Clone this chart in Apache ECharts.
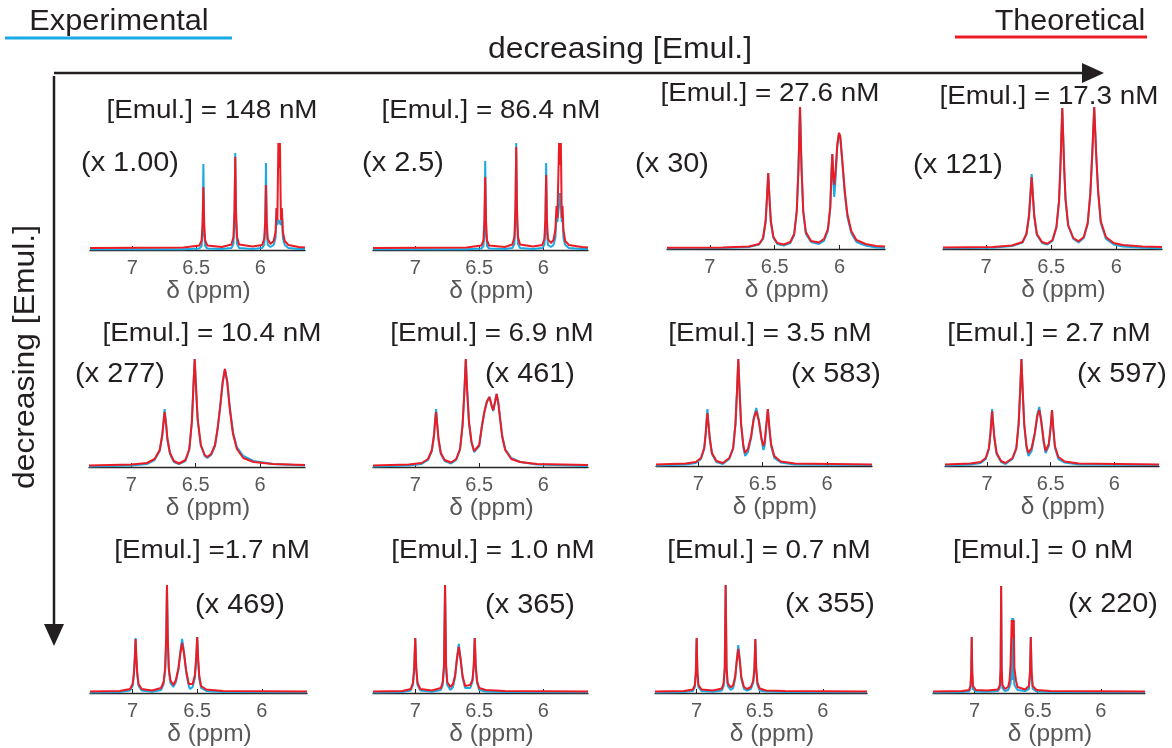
<!DOCTYPE html>
<html>
<head>
<meta charset="utf-8">
<script src="https://cdn.jsdelivr.net/npm/echarts@6/dist/echarts.min.js"></script>
<style>
html,body{margin:0;padding:0;background:#ffffff;}
#chart{width:1172px;height:748px;}
</style>
</head>
<body>
<div id="chart"></div>
<script>
// ---- 1H NMR spectra, experimental (exp) vs simulated (sim), intensity in relative units ----
const concLabels = ['[Emul.] = 148 nM', '[Emul.] = 86.4 nM', '[Emul.] = 27.6 nM', '[Emul.] = 17.3 nM',
                    '[Emul.] = 10.4 nM', '[Emul.] = 6.9 nM', '[Emul.] = 3.5 nM', '[Emul.] = 2.7 nM',
                    '[Emul.] =1.7 nM', '[Emul.] = 1.0 nM', '[Emul.] = 0.7 nM', '[Emul.] = 0 nM'];
const scaleLabels = ['(x 1.00)', '(x 2.5)', '(x 30)', '(x 121)',
                     '(x 277)', '(x 461)', '(x 583)', '(x 597)',
                     '(x 469)', '(x 365)', '(x 355)', '(x 220)'];
const ppmTicks = [6, 6.5, 7];
const ppmRange = [5.65, 7.33];

// 148 nM
const ppm148 = [7.33,6.60,6.475,6.458,6.450,6.444,6.438,6.430,6.414,6.30,
                6.225,6.209,6.201,6.195,6.189,6.181,6.165,6.06,
                5.985,5.969,5.961,5.955,5.949,5.941,5.92,
                5.895,5.880,5.872,5.866,5.858,5.852,5.846,5.838,5.831,5.823,5.808,5.78,5.70,5.65];
const sim148 = [2,2.5,4.5,9.5,27,63,27,9.5,4.5,3,
                5.5,13,39,93,39,13,5.5,3.5,
                5,11,28,65,28,11,6,
                9,18,42,30,107,82,107,30,42,18,9,5,3,2.5];
const exp148 = [0.8,0.8,1.5,4,18,86,18,4,1.5,1,
                2,6,30,97,30,6,2,1,
                2,5,20,87,20,5,3,
                5,12,42,25,30,28,30,25,40,12,5,2,1,1];

// 86.4 nM
const ppm86 = [7.33,6.60,6.483,6.467,6.459,6.453,6.447,6.439,6.423,6.30,
               6.241,6.225,6.217,6.211,6.205,6.197,6.181,6.08,
               6.007,5.991,5.983,5.977,5.971,5.963,5.94,
               5.92,5.905,5.896,5.889,5.876,5.869,5.862,5.855,5.849,5.842,5.828,5.80,5.70,5.65];
const sim86 = [2,2.5,4.5,9.5,30,73,30,9.5,4.5,3,
               5.5,13,42,103,42,13,5.5,3.5,
               5,11,31,75,31,11,7,
               10,20,44,32,107,85,107,32,44,20,9,5,3,2.5];
const exp86 = [0.8,0.8,1.5,4,18,89,18,4,1.5,1,
               2,6,32,107,32,6,2,1,
               2,5,20,87,20,5,3,
               5,12,35,28,45,57,45,28,35,12,5,2,1,1];

// 27.6 nM
const ppm27 = [7.33,6.90,6.70,6.62,6.59,6.57,6.56,6.55,6.54,6.53,6.51,6.48,
               6.43,6.38,6.35,6.33,6.317,6.305,6.293,6.28,6.26,6.22,6.16,6.12,6.09,
               6.072,6.062,6.056,6.048,6.041,6.03,6.018,6.005,5.995,5.98,5.96,5.94,5.91,5.87,5.80,5.72,5.65];
const sim27 = [1.2,1.5,2.5,5,11,28,50,76,50,28,12,6,
               4.5,7,15,38,80,142,80,38,17,8,6.5,10,20,
               42,78,95,72,64,80,104,116,113,90,58,35,18,9,5,3,2.5];
const exp27 = [0.8,1,2,4.5,10,27,50,76,50,27,11,5,
               3.5,6,14,38,80,142,80,37,15,7,5,8,18,
               40,78,95,65,52,72,102,116,112,88,55,32,16,7,3.5,1.5,1];

// 17.3 nM
const ppm17 = [7.33,6.95,6.80,6.72,6.69,6.67,6.66,6.65,6.64,6.63,6.61,6.57,
               6.53,6.49,6.46,6.44,6.43,6.415,6.40,6.39,6.37,6.33,6.29,
               6.25,6.22,6.20,6.185,6.17,6.155,6.14,6.12,6.08,6.02,5.95,5.80,5.65];
const sim17 = [1.5,2,3.5,7,15,33,52,72,52,33,15,7,
               5.3,9,22,48,80,141,80,50,24,11,7.7,
               12,26,55,95,142,95,58,28,12,6,4,2.5,2];
const exp17 = [0.8,1.2,3,6.5,15,34,55,75,54,33,14,6,
               4.5,8,21,48,80,141,80,49,23,10,6.5,
               11,25,55,95,142,95,57,26,10,4.5,2.5,1.2,0.8];

// 10.4 nM
const ppm10 = [7.33,7.00,6.88,6.82,6.78,6.76,6.75,6.742,6.73,6.72,6.70,6.67,
               6.63,6.58,6.55,6.53,6.518,6.508,6.497,6.485,6.46,6.43,6.41,
               6.38,6.35,6.33,6.31,6.29,6.273,6.255,6.235,6.21,6.18,6.13,6.05,5.90,5.65];
const sim10 = [1.5,2.5,4,8,17,32,45,55,42,28,14,6,
               3.5,7,18,45,80,108,78,48,22,12,10,
               13,22,38,60,85,98,85,58,33,18,9,5,3,2];
const exp10 = [0.6,1.5,3,7,16,32,46,58,43,27,13,5,
               3,6,17,45,80,108,78,47,21,11,9,
               12,21,38,60,85,98,86,60,35,20,11,6,3,1.5];

// 6.9 nM
const ppm6_9 = [7.33,7.05,6.95,6.90,6.87,6.853,6.845,6.837,6.828,6.818,6.80,6.77,
                6.72,6.68,6.65,6.63,6.615,6.605,6.595,6.58,6.56,6.54,6.525,
                6.50,6.48,6.46,6.44,6.42,6.40,6.39,6.375,6.364,6.35,6.336,6.32,6.297,6.25,6.18,6.05,5.65];
const sim6_9 = [1.5,2.5,4,8,17,32,45,55,42,28,14,7,
                4.5,8,18,42,78,108,78,45,25,16,14,
                22,40,55,65,70,60,57,66,73,63,47,30,17,8,5,3,2];
const exp6_9 = [0.6,1.5,3,7,16,32,47,58,43,27,13,6,
                3.5,7,17,42,78,108,78,44,24,15,13,
                21,40,55,66,70,60,56,66,73,64,48,31,18,9,5,2.5,1];

// 3.5 nM
const ppm3_5 = [7.33,7.10,7.02,6.98,6.955,6.943,6.936,6.93,6.922,6.912,6.895,6.86,
                6.81,6.76,6.73,6.712,6.70,6.69,6.68,6.668,6.65,6.637,
                6.615,6.59,6.57,6.55,6.53,6.51,6.495,6.485,6.473,6.46,6.448,6.435,6.41,6.36,6.25,5.65];
const sim3_5 = [1.5,2.5,4,8,18,33,45,53,42,28,13,5,
                3,8,18,42,75,107,75,42,20,13,
                17,30,47,55,45,28,20,24,40,57,38,22,10,4.5,2.5,1.5];
const exp3_5 = [0.6,1.5,3,7,17,33,47,57,43,27,12,4,
                2,7,17,42,75,107,75,41,18,10,
                14,28,48,58,46,27,16,20,38,57,37,20,8,3.5,1.5,1];

// 2.7 nM
const ppm2_7 = [7.33,7.13,7.05,7.01,6.985,6.973,6.966,6.96,6.952,6.942,6.925,6.89,
                6.855,6.80,6.77,6.752,6.74,6.73,6.72,6.708,6.69,6.675,
                6.65,6.625,6.605,6.59,6.575,6.555,6.54,6.53,6.515,6.50,6.49,6.48,6.467,6.44,6.39,6.28,5.65];
const sim2_7 = [1.5,2.5,4,8,18,33,45,55,42,28,13,5,
                3,8,18,42,75,107,75,42,20,13,
                18,33,50,56,45,25,15,14,22,40,56,38,20,9,4.5,2.5,1.5];
const exp2_7 = [0.6,1.5,3,7,17,33,47,57,43,27,12,4,
                2,7,17,42,75,107,75,41,18,10,
                15,32,52,59,46,23,13,12,20,39,56,37,18,7,3.5,1.5,1];

// 1.7 nM
const ppm1_7 = [7.33,7.10,7.02,7.000,6.990,6.983,6.977,6.971,6.964,6.954,6.93,6.85,
                6.78,6.760,6.748,6.740,6.734,6.728,6.720,6.708,6.685,
                6.665,6.645,6.630,6.617,6.603,6.585,6.565,6.555,
                6.535,6.518,6.508,6.500,6.493,6.484,6.47,6.43,6.30,5.65];
const sim1_7 = [1.5,2,4,9,20,35,54,35,20,9,4,2.5,
                5,11,25,55,108,55,25,13,8,
                13,25,40,50,40,22,9,7,
                9,18,35,56,35,17,7,3.5,2,1.5];
const exp1_7 = [0.6,1,2.5,7,18,35,55,35,18,7,2.5,1.2,
                3,9,23,55,108,55,23,10,6,
                11,24,42,54,42,20,7,4,
                6,15,33,56,33,14,5,2,1,0.8];

// 1.0 nM
const ppm1_0 = [7.33,7.10,7.035,7.018,7.008,7.000,6.992,6.982,6.96,6.87,
                6.80,6.785,6.775,6.767,6.759,6.750,6.725,
                6.705,6.688,6.675,6.660,6.645,6.630,6.610,6.597,
                6.57,6.553,6.543,6.535,6.527,6.517,6.50,6.45,6.30,5.65];
const sim1_0 = [1.5,2,4,10,25,55,25,10,4,2.5,
                5,11,28,108,28,11,6,
                9,18,33,46,33,17,7,5,
                8,13,27,55,27,12,5,3,2,1.5];
const exp1_0 = [0.6,1,2.5,8,24,55,24,8,2.5,1.2,
                3,8,26,108,26,8,3,
                6,16,34,49,34,15,5,3,
                5,11,26,55,26,10,3,1.5,1,0.8];

// 0.7 nM
const ppm0_7 = [7.33,7.10,7.03,7.014,7.006,7.000,6.994,6.986,6.96,6.87,
                6.80,6.786,6.777,6.770,6.763,6.754,6.73,
                6.71,6.694,6.682,6.670,6.658,6.646,6.625,6.60,
                6.57,6.552,6.542,6.535,6.528,6.518,6.50,6.45,6.30,5.65];
const sim0_7 = [1.5,2,3.5,8,22,55,22,8,3.5,2.5,
                4.5,10,26,108,26,10,5.5,
                8,17,32,44,32,16,6,4,
                6,12,25,54,25,10,4.5,2.5,2,1.5];
const exp0_7 = [0.6,1,2,6,20,55,20,6,2,1.2,
                2.5,7,24,108,24,7,3,
                5,15,33,48,33,14,4,2.5,
                4,10,23,54,23,8,2.5,1.5,1,0.8];

// 0 nM
const ppm0 = [7.33,7.10,7.045,7.033,7.027,7.023,7.019,7.013,6.99,6.90,
              6.815,6.800,6.794,6.790,6.786,6.780,6.76,
              6.735,6.724,6.716,6.711,6.706,6.702,6.698,6.694,6.690,6.685,6.680,6.672,6.66,
              6.60,6.570,6.561,6.555,6.549,6.540,6.51,6.40,5.65];
const sim0 = [1.5,2,3,7,22,56,22,7,3,2.5,
              3.5,8,25,107,25,8,4,
              6,12,27,25,73,55,73,55,73,25,27,12,6,
              3.5,7,22,56,22,7,3,2,1.5];
const exp0 = [0.6,1,1.5,4,18,56,18,4,1.5,1.2,
              2,5,22,107,22,5,2,
              3,6,10,8,20,75,13,75,20,8,10,6,3,
              2,4,18,56,18,4,1.5,1,0.8];

const spectra = [
  [ppm148, exp148, sim148], [ppm86, exp86, sim86], [ppm27, exp27, sim27], [ppm17, exp17, sim17],
  [ppm10, exp10, sim10], [ppm6_9, exp6_9, sim6_9], [ppm3_5, exp3_5, sim3_5], [ppm2_7, exp2_7, sim2_7],
  [ppm1_7, exp1_7, sim1_7], [ppm1_0, exp1_0, sim1_0], [ppm0_7, exp0_7, sim0_7], [ppm0, exp0, sim0]
];

// ---- layout (pixels): plot left, plot width, baseline y ----
const plotBox = [
  [90, 215, 250], [373, 215, 250], [667, 218, 249], [943, 219, 249],
  [89, 216, 467], [373, 215, 467], [656, 216, 466], [945, 214, 466],
  [90, 217, 693], [373, 215, 693], [655, 212, 693], [933, 212, 693]
];
const plotHeight = 150;
const titlePos = [[212, 111], [491, 111], [770, 94], [1049, 97],
                  [212, 334], [492, 334], [770, 334], [1049, 334],
                  [212, 551], [493, 551], [769, 551], [1043, 551]];
const scalePos = [[130, 164], [403, 164], [672, 165], [958, 166],
                  [120, 375], [530, 375], [836, 375], [1122, 375],
                  [240, 606], [530, 606], [830, 605], [1113, 605]];

const FONT = '"Liberation Sans", Arial, Helvetica, sans-serif';
const BLUE = '#1ba9e4';
const RED = '#ec1c24';
const INK = '#231f20';
const GREY = '#585858';

const grids = [], xAxes = [], yAxes = [], series = [];
plotBox.forEach((b, i) => {
  grids.push({ left: b[0], width: b[1], top: b[2] - plotHeight, height: plotHeight });
  xAxes.push({
    gridIndex: i, type: 'value', min: ppmRange[0], max: ppmRange[1], inverse: true,
    axisLine: { show: true, onZero: false, lineStyle: { color: '#262626', width: 1.3 } },
    axisTick: { show: true, inside: true, length: 4, customValues: ppmTicks, lineStyle: { color: '#262626', width: 1 } },
    axisLabel: { show: true, customValues: ppmTicks, color: GREY, fontSize: 20, fontFamily: FONT, margin: 8,
                 formatter: v => String(v) },
    splitLine: { show: false },
    name: 'δ (ppm)', nameLocation: 'middle', nameGap: 27,
    nameTextStyle: { color: GREY, fontSize: 24.5, fontFamily: FONT, padding: [0, 0, 0, 22] }
  });
  yAxes.push({ gridIndex: i, type: 'value', min: 0, max: plotHeight, show: false });
  const [ppm, expv, simv] = spectra[i];
  series.push({
    type: 'line', xAxisIndex: i, yAxisIndex: i, showSymbol: false, symbol: 'none', silent: true,
    lineStyle: { color: BLUE, width: 2 }, data: ppm.map((x, k) => [x, expv[k]]), z: 3
  });
  series.push({
    type: 'line', xAxisIndex: i, yAxisIndex: i, showSymbol: false, symbol: 'none', silent: true,
    lineStyle: { color: RED, width: 2 }, data: ppm.map((x, k) => [x, simv[k]]), z: 4
  });
});

// centred text; sx widens the glyphs horizontally
function txt(str, x, y, size, sx, extra) {
  return Object.assign({
    type: 'text', x: x, y: y, scaleX: sx, silent: true,
    style: { text: str, x: 0, y: 0, fill: INK, font: size + 'px ' + FONT,
             align: 'center', verticalAlign: 'middle', textAlign: 'center', textVerticalAlign: 'middle' }
  }, extra || {});
}

const graphics = [];
concLabels.forEach((s, i) => graphics.push(txt(s, titlePos[i][0], titlePos[i][1], 26.5, 1.05)));
scaleLabels.forEach((s, i) => graphics.push(txt(s, scalePos[i][0], scalePos[i][1], 27, 1.07)));

// key
graphics.push(txt('Experimental', 119, 22, 29, 1.06));
graphics.push({ type: 'line', silent: true, shape: { x1: 5, y1: 38, x2: 232, y2: 38 }, style: { stroke: BLUE, lineWidth: 3 } });
graphics.push(txt('Theoretical', 1070, 22, 29, 1.05));
graphics.push({ type: 'line', silent: true, shape: { x1: 955, y1: 37, x2: 1147, y2: 37 }, style: { stroke: RED, lineWidth: 3 } });

// direction arrows
graphics.push(txt('decreasing [Emul.]', 620, 50, 29, 1.1));
graphics.push({ type: 'line', silent: true, shape: { x1: 54, y1: 73, x2: 1088, y2: 73 }, style: { stroke: INK, lineWidth: 2.5 } });
graphics.push({ type: 'polygon', silent: true, shape: { points: [[1082, 63], [1104, 73], [1082, 83]] }, style: { fill: INK } });
graphics.push(txt('decreasing [Emul.]', 26, 357, 29, 1.1, { rotation: Math.PI / 2 }));
graphics.push({ type: 'line', silent: true, shape: { x1: 54, y1: 76, x2: 54, y2: 630 }, style: { stroke: INK, lineWidth: 2.5 } });
graphics.push({ type: 'polygon', silent: true, shape: { points: [[44, 624], [54, 646], [64, 624]] }, style: { fill: INK } });

const chart = echarts.init(document.getElementById('chart'), null, { renderer: 'canvas' });
chart.setOption({
  backgroundColor: '#ffffff',
  animation: false,
  grid: grids,
  xAxis: xAxes,
  yAxis: yAxes,
  series: series,
  graphic: graphics
});
</script>
</body>
</html>
